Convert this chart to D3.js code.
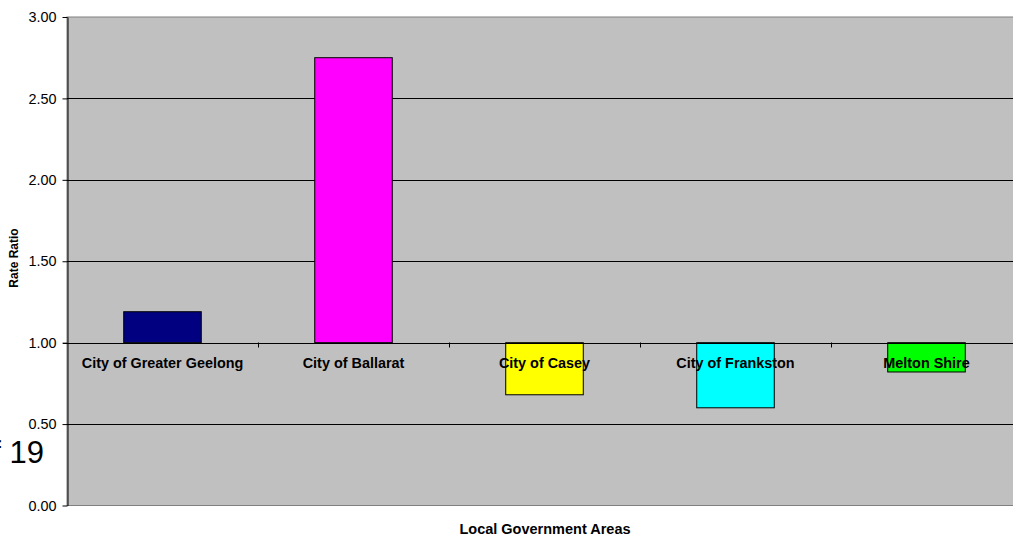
<!DOCTYPE html>
<html>
<head>
<meta charset="utf-8">
<script src="https://cdn.jsdelivr.net/npm/d3@7"></script>
<style>
  html, body { margin: 0; padding: 0; background: #fff; }
  svg { display: block; font-family: Arial, "Liberation Sans", sans-serif; }
</style>
</head>
<body>
<svg id="chart" width="1013" height="535"></svg>
<script>
// Rate ratios by local government area (baseline 1.00)
const categories = ["City of Greater Geelong", "City of Ballarat", "City of Casey", "City of Frankston", "Melton Shire"];
const rateRatios = [1.19, 2.75, 0.68, 0.60, 0.82];
const barColors = ["#000080", "#FF00FF", "#FFFF00", "#00FFFF", "#00FF00"];
const yTicks = [0, 0.5, 1.0, 1.5, 2.0, 2.5, 3.0];
const baseline = 1.0;

const svg = d3.select("#chart");
const plot = { left: 67, right: 1022, top: 17, bottom: 505.5 };

const x = d3.scaleBand().domain(categories).range([plot.left, plot.right]).paddingInner(0).paddingOuter(0);
const y = d3.scaleLinear().domain([0, 3]).range([plot.bottom, plot.top]);

// plot area
svg.append("rect")
  .attr("x", plot.left).attr("y", plot.top)
  .attr("width", plot.right - plot.left).attr("height", plot.bottom - plot.top)
  .attr("fill", "#C0C0C0").attr("stroke", "#808080").attr("stroke-width", 1);

// gridlines
svg.append("g").selectAll("line")
  .data(yTicks.filter(t => t > 0 && t < 3))
  .join("line")
  .attr("x1", plot.left).attr("x2", plot.right)
  .attr("y1", d => Math.round(y(d)) + 0.5).attr("y2", d => Math.round(y(d)) + 0.5)
  .attr("stroke", "#000").attr("stroke-width", 1);

// y axis
const yAxis = svg.append("g")
  .attr("transform", `translate(${plot.left + 0.5},0)`)
  .call(d3.axisLeft(y).tickValues(yTicks).tickFormat(d3.format(".2f")).tickSize(5).tickSizeOuter(0).tickPadding(6));
yAxis.select(".domain").attr("stroke", "#000");
yAxis.selectAll(".tick line").attr("stroke", "#000");
yAxis.selectAll(".tick text").attr("font-size", 14.4).attr("fill", "#000")
  .attr("font-family", "Arial, 'Liberation Sans', sans-serif");

// bars from the baseline
const bw = x.bandwidth() * 0.406;
svg.append("g").selectAll("rect")
  .data(categories)
  .join("rect")
  .attr("x", d => x(d) + x.bandwidth() / 2 - bw / 2)
  .attr("width", bw)
  .attr("y", (d, i) => y(Math.max(rateRatios[i], baseline)))
  .attr("height", (d, i) => Math.abs(y(rateRatios[i]) - y(baseline)))
  .attr("fill", (d, i) => barColors[i])
  .attr("stroke", "#000").attr("stroke-width", 1);

// category axis at the baseline
const by = Math.round(y(baseline)) + 0.5;
svg.append("line")
  .attr("x1", plot.left - 4).attr("x2", plot.right)
  .attr("y1", by).attr("y2", by)
  .attr("stroke", "#000");
svg.append("g").selectAll("line")
  .data(categories.slice(1))
  .join("line")
  .attr("x1", d => Math.round(x(d)) + 0.5).attr("x2", d => Math.round(x(d)) + 0.5)
  .attr("y1", by - 1).attr("y2", by + 4)
  .attr("stroke", "#000");

// category labels
svg.append("g").selectAll("text")
  .data(categories)
  .join("text")
  .attr("x", d => x(d) + x.bandwidth() / 2)
  .attr("y", 368)
  .attr("text-anchor", "middle")
  .attr("font-size", 14.4).attr("font-weight", "bold").attr("fill", "#000")
  .text(d => d);

// axis titles
svg.append("text")
  .attr("x", 545).attr("y", 534)
  .attr("text-anchor", "middle")
  .attr("font-size", 14.5).attr("font-weight", "bold")
  .text("Local Government Areas");

svg.append("text")
  .attr("transform", "translate(18,258) rotate(-90)")
  .attr("text-anchor", "middle")
  .attr("font-size", 12).attr("font-weight", "bold")
  .text("Rate Ratio");

// page number fragment
svg.append("text")
  .attr("x", 44).attr("y", 463)
  .attr("text-anchor", "end")
  .attr("font-size", 31)
  .text("of 19");
</script>
</body>
</html>
